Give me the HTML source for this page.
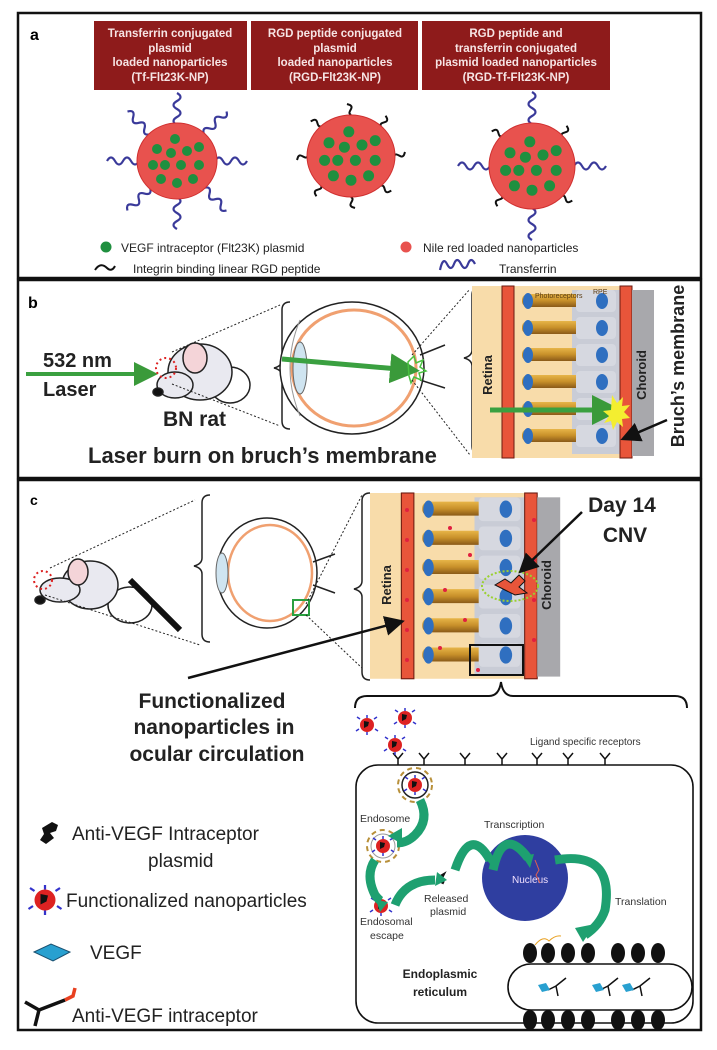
<!DOCTYPE html>
<html><head><meta charset="utf-8"><style>
html,body{margin:0;padding:0;background:#fff;}
svg{display:block;font-family:"Liberation Sans",sans-serif;}
</style></head><body>
<svg width="717" height="1050" viewBox="0 0 717 1050" xmlns="http://www.w3.org/2000/svg">
<defs>
  <path id="tf" d="M0 0 q4 -7 8 0 t8 0 t8 0 t8 0" fill="none" stroke="#3a3a9a" stroke-width="2.2"/>
  <path id="rgd" d="M0 0 c3 -5 7 4 10 -1 l1 -3" fill="none" stroke="#111" stroke-width="2"/>
  <g id="dots">
    <circle cx="-2" cy="-22" r="5"/><circle cx="-20" cy="-12" r="5"/><circle cx="-6" cy="-8" r="5"/>
    <circle cx="10" cy="-10" r="5"/><circle cx="22" cy="-14" r="5"/><circle cx="-24" cy="4" r="5"/>
    <circle cx="-12" cy="4" r="5"/><circle cx="4" cy="4" r="5"/><circle cx="22" cy="4" r="5"/>
    <circle cx="-16" cy="18" r="5"/><circle cx="0" cy="22" r="5"/><circle cx="16" cy="18" r="5"/>
  </g>
  <linearGradient id="rod" x1="0" y1="0" x2="0" y2="1">
    <stop offset="0" stop-color="#e7b548"/><stop offset="0.5" stop-color="#c8902a"/><stop offset="1" stop-color="#8a5a18"/>
  </linearGradient>
  <g id="retina">
    <rect x="0" y="0" width="148" height="172" fill="#f8dcaa"/>
    <rect x="100" y="4" width="48" height="164" fill="#c9ccd6"/>
    <rect x="30" y="0" width="12" height="172" fill="#e8553a" stroke="#6a1a10" stroke-width="1"/>
    <g id="row">
      <rect x="50" y="8" width="70" height="13" rx="6" fill="url(#rod)"/>
      <ellipse cx="56" cy="15" rx="5" ry="8" fill="#2f6fc0"/>
      <rect x="104" y="4" width="40" height="22" rx="4" fill="#d6d8e0"/>
      <ellipse cx="130" cy="15" rx="6" ry="8" fill="#2f6fc0"/>
    </g>
    <use href="#row" y="27"/><use href="#row" y="54"/><use href="#row" y="81"/><use href="#row" y="108"/><use href="#row" y="135"/>
    <rect x="148" y="0" width="12" height="172" fill="#e8553a" stroke="#6a1a10" stroke-width="1"/>
    <rect x="160" y="4" width="22" height="166" fill="#a8a8ac"/>
  </g>
  <g id="np"><circle r="7" fill="#d22"/><path d="M-3 -4 l5 1 -1 4 -4 2z" fill="#111"/>
    <path d="M-7 -6 l-3 -2 M7 -6 l3 -2 M-8 4 l-3 2 M8 4 l3 2 M0 -7 v-3 M0 7 v3" stroke="#33c" stroke-width="1.5"/></g>
  <g id="rec"><path d="M0 0 v-6 l-5 -6 M0 -6 l5 -6" fill="none" stroke="#111" stroke-width="1.5"/></g>
  <marker id="ah" markerWidth="8" markerHeight="8" refX="6" refY="4" orient="auto"><path d="M0 0 L8 4 L0 8z" fill="#111"/></marker>
  <marker id="gh" markerWidth="6" markerHeight="6" refX="4" refY="3" orient="auto"><path d="M0 0 L6 3 L0 6z" fill="#3a9a3a"/></marker>
</defs>

<rect x="18" y="13" width="683" height="265" fill="none" stroke="#111" stroke-width="2.5"/>
<rect x="18" y="280" width="683" height="198" fill="none" stroke="#111" stroke-width="2.5"/>
<rect x="18" y="480" width="683" height="550" fill="none" stroke="#111" stroke-width="2.5"/>

<text x="30" y="40" font-size="16" font-weight="bold">a</text>
<g fill="#8e1b1b"><rect x="94" y="21" width="153" height="69"/><rect x="251" y="21" width="167" height="69"/><rect x="422" y="21" width="188" height="69"/></g>
<g fill="#f6e4e4" font-size="11.5" font-weight="bold" text-anchor="middle">
<text x="170" y="37">Transferrin conjugated</text><text x="170" y="52">plasmid</text><text x="170" y="66">loaded nanoparticles</text><text x="170" y="81">(Tf-Flt23K-NP)</text>
<text x="335" y="37">RGD peptide conjugated</text><text x="335" y="52">plasmid</text><text x="335" y="66">loaded nanoparticles</text><text x="335" y="81">(RGD-Flt23K-NP)</text>
<text x="516" y="37">RGD peptide and</text><text x="516" y="52">transferrin conjugated</text><text x="516" y="66">plasmid loaded nanoparticles</text><text x="516" y="81">(RGD-Tf-Flt23K-NP)</text>
</g>
<g transform="translate(177,161)">
  <g><use href="#tf" transform="rotate(0) translate(38,0)"/><use href="#tf" transform="rotate(45) translate(38,0)"/><use href="#tf" transform="rotate(90) translate(36,0)"/><use href="#tf" transform="rotate(135) translate(38,0)"/><use href="#tf" transform="rotate(180) translate(38,0)"/><use href="#tf" transform="rotate(225) translate(38,0)"/><use href="#tf" transform="rotate(270) translate(36,0)"/><use href="#tf" transform="rotate(315) translate(38,0)"/></g>
  <ellipse rx="40" ry="38" fill="#e8524e" stroke="#d03030"/>
  <use href="#dots" fill="#1f8f3f"/>
</g>
<g transform="translate(351,156)">
  <g><use href="#rgd" transform="rotate(0) translate(43,0)"/><use href="#rgd" transform="rotate(45) translate(42,0)"/><use href="#rgd" transform="rotate(90) translate(41,0)"/><use href="#rgd" transform="rotate(135) translate(42,0)"/><use href="#rgd" transform="rotate(180) translate(43,0)"/><use href="#rgd" transform="rotate(225) translate(42,0)"/><use href="#rgd" transform="rotate(270) translate(41,0)"/><use href="#rgd" transform="rotate(315) translate(42,0)"/></g>
  <ellipse rx="44" ry="41" fill="#e8524e" stroke="#d03030"/>
  <use href="#dots" fill="#1f8f3f" transform="scale(1.1)"/>
</g>
<g transform="translate(532,166)">
  <g><use href="#tf" transform="rotate(0) translate(42,0)"/><use href="#tf" transform="rotate(90) translate(42,0)"/><use href="#tf" transform="rotate(180) translate(42,0)"/><use href="#tf" transform="rotate(270) translate(42,0)"/>
  <use href="#rgd" transform="rotate(45) translate(42,0)"/><use href="#rgd" transform="rotate(135) translate(42,0)"/><use href="#rgd" transform="rotate(225) translate(42,0)"/><use href="#rgd" transform="rotate(315) translate(42,0)"/></g>
  <ellipse rx="43" ry="43" fill="#e8524e" stroke="#d03030"/>
  <use href="#dots" fill="#1f8f3f" transform="scale(1.1)"/>
</g>
<circle cx="106" cy="247" r="5.5" fill="#1f8f3f"/>
<text x="121" y="252" font-size="12" fill="#222">VEGF intraceptor (Flt23K) plasmid</text>
<circle cx="406" cy="247" r="5.5" fill="#e8524e"/>
<text x="423" y="252" font-size="12" fill="#222">Nile red loaded nanoparticles</text>
<path d="M95 270 c4 -6 8 -6 12 -2 c3 3 6 2 8 -2" fill="none" stroke="#111" stroke-width="2"/>
<text x="133" y="273" font-size="12" fill="#222">Integrin binding linear RGD peptide</text>
<path d="M440 270 q3 -14 7 -6 t7 0 t7 0 t7 0 t7 0" fill="none" stroke="#3a3a9a" stroke-width="2.2"/>
<text x="499" y="273" font-size="12" fill="#222">Transferrin</text>

<text x="28" y="308" font-size="16" font-weight="bold">b</text>
<text x="43" y="367" font-size="20" font-weight="bold" fill="#222">532 nm</text>
<text x="43" y="396" font-size="20" font-weight="bold" fill="#222">Laser</text>
<line x1="26" y1="374" x2="150" y2="374" stroke="#3aa040" stroke-width="4" marker-end="url(#gh)"/>
<g stroke="#222" stroke-width="1.5">
  <ellipse cx="230" cy="385" rx="20" ry="18" fill="#fff"/>
  <ellipse cx="200" cy="372" rx="32" ry="28" fill="#e9e9f0"/>
  <ellipse cx="175" cy="385" rx="18" ry="13" fill="#e9e9f0"/>
  <ellipse cx="195" cy="358" rx="12" ry="15" fill="#f4d4d8"/>
  <ellipse cx="158" cy="392" rx="5" ry="4" fill="#111"/>
</g>
<circle cx="166" cy="368" r="10" fill="none" stroke="#d22" stroke-width="2" stroke-dasharray="2 3"/>
<text x="163" y="426" font-size="21" font-weight="bold" fill="#222">BN rat</text>
<text x="88" y="463" font-size="22" font-weight="bold" fill="#222">Laser burn on bruch’s membrane</text>
<line x1="172" y1="352" x2="280" y2="305" stroke="#222" stroke-dasharray="2 2"/>
<line x1="172" y1="384" x2="280" y2="426" stroke="#222" stroke-dasharray="2 2"/>
<path d="M290 302 q-8 0 -8 8 v50 q0 6 -8 8 q8 2 8 8 v45 q0 8 8 8" fill="none" stroke="#222" stroke-width="1.5"/>
<ellipse cx="352" cy="368" rx="72" ry="66" fill="#fff" stroke="#222" stroke-width="1.5"/>
<ellipse cx="354" cy="368" rx="62" ry="58" fill="none" stroke="#f0a070" stroke-width="3"/>
<path d="M300 320 q-20 48 0 96" fill="none" stroke="#999"/>
<ellipse cx="300" cy="368" rx="7" ry="26" fill="#cfe4f0" stroke="#666"/>
<path d="M420 355 l25 -10 M420 380 l25 8" stroke="#222" stroke-width="1.5"/>
<line x1="282" y1="359" x2="410" y2="370" stroke="#3aa040" stroke-width="5" marker-end="url(#gh)"/>
<path d="M408 362 l6 -6 2 7 7 -3 -3 7 6 4 -7 2 2 7 -7 -3 -3 6 -2 -7z" fill="none" stroke="#4ac040" stroke-width="1.5"/>
<line x1="412" y1="355" x2="470" y2="289" stroke="#222" stroke-dasharray="2 2"/>
<line x1="412" y1="380" x2="470" y2="455" stroke="#222" stroke-dasharray="2 2"/>
<path d="M480 287 q-8 0 -8 8 v55 q0 6 -8 8 q8 2 8 8 v80 q0 8 8 8" fill="none" stroke="#222" stroke-width="1.5"/>
<use href="#retina" transform="translate(472,286)"/>
<text transform="translate(492,375) rotate(-90)" font-size="13" font-weight="bold" text-anchor="middle" fill="#222">Retina</text>
<text x="535" y="298" font-size="7" fill="#5a3a10">Photoreceptors</text>
<text x="593" y="294" font-size="7" fill="#5a3a10">RPE</text>
<text transform="translate(646,375) rotate(-90)" font-size="13" font-weight="bold" text-anchor="middle" fill="#222">Choroid</text>
<line x1="490" y1="410" x2="612" y2="410" stroke="#3aa040" stroke-width="5" marker-end="url(#gh)"/>
<path d="M612 395 l5 8 6 -6 -1 9 8 -1 -6 7 6 6 -8 1 1 8 -6 -5 -4 8 -2 -9 -7 2 5 -7 -6 -5 8 -1z" fill="#f4ee30"/>
<line x1="667" y1="420" x2="625" y2="438" stroke="#111" stroke-width="2.5" marker-end="url(#ah)"/>
<text transform="translate(684,366) rotate(-90)" font-size="18" font-weight="bold" text-anchor="middle" fill="#222">Bruch’s membrane</text>

<text x="30" y="505" font-size="14" font-weight="bold">c</text>
<g stroke="#222" stroke-width="1.5">
  <ellipse cx="130" cy="605" rx="22" ry="18" fill="#fff"/>
  <ellipse cx="90" cy="585" rx="28" ry="24" fill="#e9e9f0"/>
  <ellipse cx="60" cy="590" rx="20" ry="12" fill="#e9e9f0"/>
  <ellipse cx="78" cy="572" rx="10" ry="13" fill="#f4d4d8"/>
  <ellipse cx="40" cy="600" rx="5" ry="4" fill="#111"/>
  <line x1="130" y1="580" x2="180" y2="630" stroke="#111" stroke-width="6"/>
</g>
<circle cx="43" cy="580" r="9" fill="none" stroke="#d22" stroke-width="2" stroke-dasharray="2 3"/>
<line x1="50" y1="568" x2="195" y2="500" stroke="#222" stroke-dasharray="2 2"/>
<line x1="45" y1="595" x2="200" y2="645" stroke="#222" stroke-dasharray="2 2"/>
<path d="M210 495 q-8 0 -8 8 v55 q0 6 -8 8 q8 2 8 8 v60 q0 8 8 8" fill="none" stroke="#222" stroke-width="1.5"/>
<ellipse cx="267" cy="573" rx="50" ry="55" fill="#fff" stroke="#222" stroke-width="1.5"/>
<ellipse cx="270" cy="573" rx="42" ry="48" fill="none" stroke="#f0a070" stroke-width="2.5"/>
<ellipse cx="222" cy="573" rx="6" ry="20" fill="#cfe4f0" stroke="#666"/>
<path d="M313 562 l22 -8 M313 585 l22 8" stroke="#222" stroke-width="1.5"/>
<rect x="293" y="600" width="16" height="15" fill="none" stroke="#2aa040" stroke-width="2"/>
<line x1="306" y1="604" x2="362" y2="495" stroke="#222" stroke-dasharray="2 2"/>
<line x1="306" y1="615" x2="362" y2="668" stroke="#222" stroke-dasharray="2 2"/>
<path d="M370 493 q-8 0 -8 8 v80 q0 6 -8 8 q8 2 8 8 v75 q0 8 8 8" fill="none" stroke="#222" stroke-width="1.5"/>
<use href="#retina" transform="translate(370,493) scale(1.045,1.08)"/>
<g fill="#e02040">
<circle cx="407" cy="510" r="2"/><circle cx="407" cy="540" r="2"/><circle cx="407" cy="570" r="2"/><circle cx="407" cy="600" r="2"/><circle cx="407" cy="630" r="2"/><circle cx="407" cy="660" r="2"/>
<circle cx="450" cy="528" r="2"/><circle cx="470" cy="555" r="2"/><circle cx="445" cy="590" r="2"/><circle cx="465" cy="620" r="2"/><circle cx="440" cy="648" r="2"/><circle cx="478" cy="670" r="2"/>
<circle cx="534" cy="520" r="2"/><circle cx="534" cy="560" r="2"/><circle cx="534" cy="600" r="2"/><circle cx="534" cy="640" r="2"/>
</g>
<ellipse cx="510" cy="586" rx="28" ry="15" fill="none" stroke="#9ad030" stroke-width="2" stroke-dasharray="2 2"/>
<path d="M495 585 l10 -6 6 4 8 -8 6 6 -6 6 8 6 -12 2 -8 -4z" fill="#e8553a" stroke="#111"/>
<text transform="translate(391,585) rotate(-90)" font-size="13" font-weight="bold" text-anchor="middle" fill="#222">Retina</text>
<text transform="translate(551,585) rotate(-90)" font-size="13" font-weight="bold" text-anchor="middle" fill="#222">Choroid</text>
<rect x="470" y="645" width="53" height="30" fill="none" stroke="#111" stroke-width="2"/>
<text x="622" y="512" font-size="21" font-weight="bold" text-anchor="middle" fill="#222">Day 14</text>
<text x="625" y="542" font-size="21" font-weight="bold" text-anchor="middle" fill="#222">CNV</text>
<line x1="582" y1="512" x2="522" y2="570" stroke="#111" stroke-width="2.5" marker-end="url(#ah)"/>
<line x1="188" y1="678" x2="400" y2="622" stroke="#111" stroke-width="2.5" marker-end="url(#ah)"/>
<g font-size="21" font-weight="bold" text-anchor="middle" fill="#222">
<text x="212" y="708">Functionalized</text><text x="214" y="734">nanoparticles in</text><text x="217" y="761">ocular circulation</text></g>
<path d="M355 708 q0 -12 12 -12 h122 q10 0 12 -14 q2 14 12 14 h162 q12 0 12 12" fill="none" stroke="#111" stroke-width="2"/>
<rect x="356" y="765" width="337" height="258" rx="22" fill="none" stroke="#111" stroke-width="1.6"/>
<g><use href="#rec" transform="translate(398,765)"/><use href="#rec" transform="translate(424,765)"/><use href="#rec" transform="translate(465,765)"/><use href="#rec" transform="translate(502,765)"/><use href="#rec" transform="translate(537,765)"/><use href="#rec" transform="translate(568,765)"/><use href="#rec" transform="translate(605,765)"/></g>
<text x="530" y="745" font-size="10" fill="#333">Ligand specific receptors</text>
<use href="#np" transform="translate(367,725)"/><use href="#np" transform="translate(405,718)"/><use href="#np" transform="translate(395,745)"/>
<circle cx="415" cy="785" r="13" fill="none" stroke="#222" stroke-width="1.5"/>
<circle cx="415" cy="785" r="17" fill="none" stroke="#b8903a" stroke-width="2" stroke-dasharray="5 4"/>
<use href="#np" transform="translate(415,785)"/>
<circle cx="383" cy="846" r="12" fill="none" stroke="#999"/>
<circle cx="383" cy="846" r="16" fill="none" stroke="#b8903a" stroke-width="2" stroke-dasharray="5 4"/>
<use href="#np" transform="translate(383,846)"/>
<use href="#np" transform="translate(381,906)"/>
<text x="360" y="822" font-size="10.5" fill="#333">Endosome</text>
<text x="484" y="828" font-size="10.5" fill="#333">Transcription</text>
<text x="424" y="902" font-size="10.5" fill="#333">Released</text>
<text x="430" y="915" font-size="10.5" fill="#333">plasmid</text>
<text x="360" y="925" font-size="10.5" fill="#333">Endosomal</text>
<text x="370" y="939" font-size="10.5" fill="#333">escape</text>
<text x="615" y="905" font-size="10.5" fill="#333">Translation</text>
<circle cx="525" cy="878" r="43" fill="#2f3ea0"/>
<text x="512" y="883" font-size="10" fill="#f0e0ff">Nucleus</text>
<path d="M438 878 l5 -3 -3 6 4 2" stroke="#111" stroke-width="3" fill="none"/>
<g fill="none" stroke="#1ea070" stroke-width="9">
<path d="M420 800 q10 20 -5 35 q-8 8 -18 8"/>
<path d="M375 860 q-10 15 0 35 q4 5 6 6"/>
<path d="M395 905 q10 -25 40 -25"/>
<path d="M455 870 q15 -45 35 -10"/>
<path d="M493 870 q10 -45 35 -12"/>
<path d="M555 860 q60 -10 50 50 q-5 15 -20 25"/>
</g>
<g fill="#1ea070"><path d="M388 836 l14 -8 0 16z"/><path d="M376 900 l12 2 -8 10z"/><path d="M437 872 l10 8 -12 6z"/><path d="M485 858 l12 -2 -2 14z"/><path d="M522 856 l12 -2 -4 14z"/><path d="M575 928 l20 -4 -12 18z"/></g>
<path d="M535 860 l4 10 -3 5 4 8" stroke="#e06050" fill="none"/>
<rect x="508" y="964" width="184" height="46" rx="23" fill="#fff" stroke="#111" stroke-width="1.6"/>
<g fill="#111">
<ellipse cx="530" cy="953" rx="7" ry="10"/><ellipse cx="548" cy="953" rx="7" ry="10"/><ellipse cx="568" cy="953" rx="7" ry="10"/><ellipse cx="588" cy="953" rx="7" ry="10"/><ellipse cx="618" cy="953" rx="7" ry="10"/><ellipse cx="638" cy="953" rx="7" ry="10"/><ellipse cx="658" cy="953" rx="7" ry="10"/>
<ellipse cx="530" cy="1020" rx="7" ry="10"/><ellipse cx="548" cy="1020" rx="7" ry="10"/><ellipse cx="568" cy="1020" rx="7" ry="10"/><ellipse cx="588" cy="1020" rx="7" ry="10"/><ellipse cx="618" cy="1020" rx="7" ry="10"/><ellipse cx="638" cy="1020" rx="7" ry="10"/><ellipse cx="658" cy="1020" rx="7" ry="10"/>
</g>
<path d="M535 945 q8 -10 14 -4 q6 -6 12 -5" stroke="#e8a020" fill="none"/>
<g stroke="#111" stroke-width="1.5" fill="none">
<path d="M548 990 l8 -4 10 -8 M556 986 l2 10"/><path d="M600 990 l8 -4 10 -8 M608 986 l2 10"/><path d="M632 990 l8 -4 10 -8 M640 986 l2 10"/></g>
<g fill="#28a0d0"><path d="M538 985 l8 -2 4 7 -8 2z"/><path d="M592 985 l8 -2 4 7 -8 2z"/><path d="M622 985 l8 -2 4 7 -8 2z"/></g>
<text x="440" y="978" font-size="12" font-weight="bold" text-anchor="middle" fill="#222">Endoplasmic</text>
<text x="440" y="996" font-size="12" font-weight="bold" text-anchor="middle" fill="#222">reticulum</text>
<path d="M42 828 l10 -6 6 3 -2 6 -6 2 4 5 -8 6 -6 -4 4 -6z" fill="#111"/>
<text x="72" y="840" font-size="19" fill="#222">Anti-VEGF Intraceptor</text>
<text x="148" y="867" font-size="19" fill="#222">plasmid</text>
<use href="#np" transform="translate(45,900) scale(1.5)"/>
<text x="66" y="907" font-size="19" fill="#222">Functionalized nanoparticles</text>
<path d="M34 952 l17 -8 19 8 -17 9z" fill="#28a0d0" stroke="#1a5070"/>
<text x="90" y="959" font-size="19" fill="#222">VEGF</text>
<path d="M25 1002 l14 8 M39 1010 l-4 16 M39 1010 l26 -10" stroke="#111" stroke-width="3.5" fill="none"/>
<path d="M65 1000 l8 -4 2 -8" stroke="#e84020" stroke-width="3.5" fill="none"/>
<text x="72" y="1022" font-size="19" fill="#222">Anti-VEGF intraceptor</text>
</svg>
</body></html>
